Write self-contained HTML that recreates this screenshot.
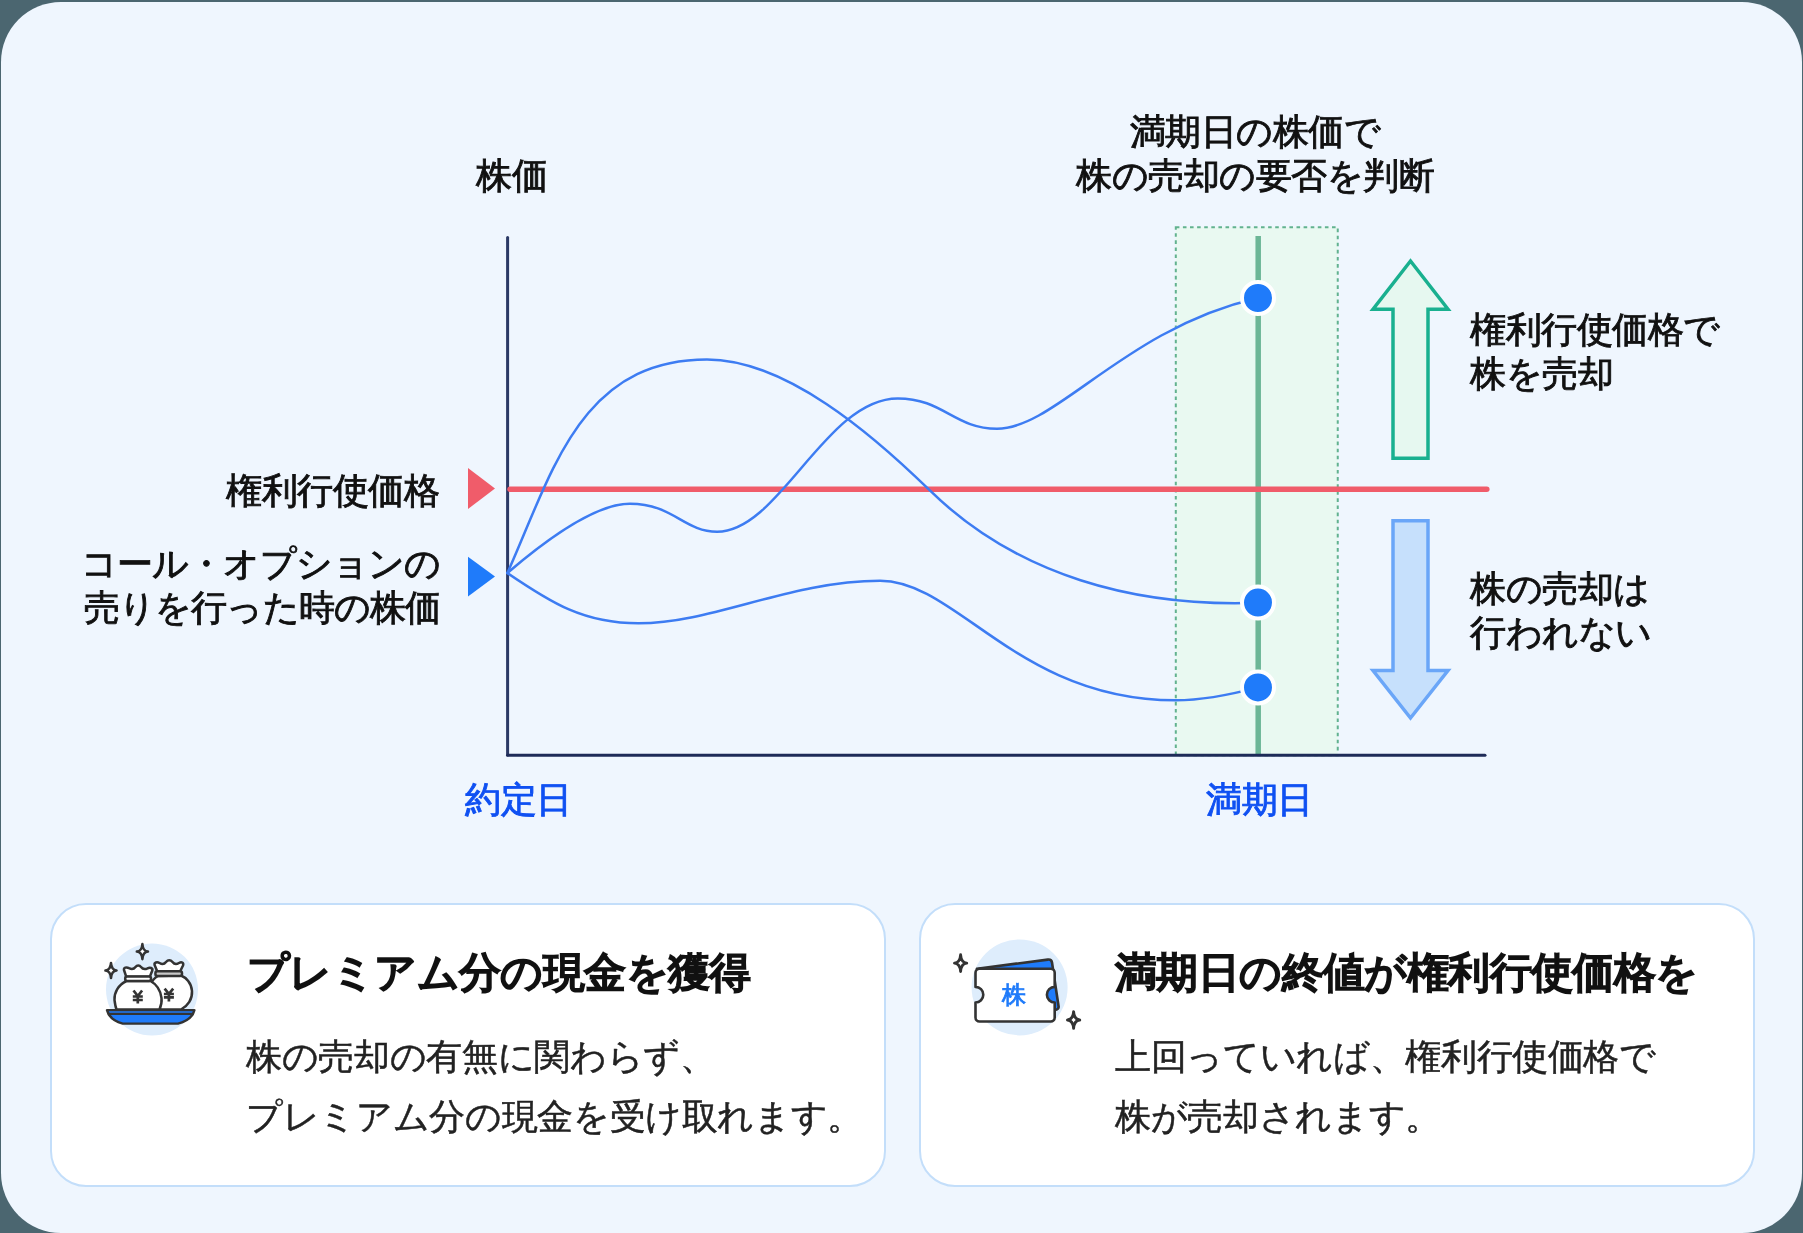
<!DOCTYPE html>
<html lang="ja">
<head>
<meta charset="utf-8">
<title>call option</title>
<style>
html,body{margin:0;padding:0;width:1803px;height:1233px;overflow:hidden;background:#4b6670;}
body{position:relative;font-family:"Liberation Sans",sans-serif;-webkit-font-smoothing:antialiased;}
.t,.ct,.cb{will-change:transform;}
.main{position:absolute;left:1px;top:2px;width:1801px;height:1231px;background:#eff6fe;border-radius:60px;}
svg{position:absolute;left:0;top:0;overflow:visible}
.t{position:absolute;white-space:nowrap;color:#111;font-size:36px;line-height:44px;font-weight:500;-webkit-text-stroke:0.9px #111;letter-spacing:-0.5px;}
.t.blue{-webkit-text-stroke:0.9px #0f50f2;}
.blue{color:#0f50f2;}
.card{position:absolute;top:903px;width:832px;height:280px;background:#fff;border:2px solid #c3defa;border-radius:36px;}
.ct{position:absolute;white-space:nowrap;color:#111;font-size:41.5px;line-height:50px;font-weight:normal;-webkit-text-stroke:2.2px #111;letter-spacing:-0.6px;}
.cb{position:absolute;white-space:nowrap;color:#222;font-size:36px;line-height:60px;font-weight:normal;-webkit-text-stroke:0.5px #222;letter-spacing:-0.35px;}
</style>
</head>
<body>
<div class="main"></div>
<svg width="1803" height="1233" viewBox="0 0 1803 1233">
  <rect x="1175.8" y="227.2" width="161.95" height="528" fill="#e9f9f1" stroke="#62b28f" stroke-width="2" stroke-dasharray="3.6 3.5"/>
  <line x1="1258.2" y1="236" x2="1258.2" y2="755" stroke="#6cb696" stroke-width="5.5"/>
  <line x1="507.6" y1="237.5" x2="507.6" y2="755" stroke="#2b3965" stroke-width="3" stroke-linecap="round"/>
  <line x1="507.6" y1="755.3" x2="1485" y2="755.3" stroke="#1e2b58" stroke-width="3" stroke-linecap="round"/>
  <line x1="510" y1="489.2" x2="1486.8" y2="489.2" stroke="#f05c6a" stroke-width="5.5" stroke-linecap="round"/>
  <polygon points="468,468 495,488.5 468,509" fill="#f05c6a"/>
  <polygon points="468,556.8 495,576.6 468,596.4" fill="#1f7bfa"/>
  <g fill="none" stroke="#3d7cf2" stroke-width="2.5" stroke-linecap="round">
    <path d="M507.4,573.0 C551.7,474.6 579.2,359.4 707.0,359.4 C785.5,359.4 872.7,434.6 929.6,490.2 C1017.1,575.8 1135.2,607.3 1257.7,602.8"/>
    <path d="M507.4,573.0 C540.0,545.0 592.3,503.8 629.9,503.8 C673.2,503.8 683.9,531.7 717.1,531.7 C779.5,531.7 825.6,398.4 897.8,398.4 C943.1,398.4 954.2,428.7 997.0,428.7 C1056.1,428.7 1125.2,328.1 1257.9,298.0"/>
    <path d="M507.4,573.0 C551.4,603.0 583.8,623.3 638.5,623.3 C712.9,623.3 790.4,580.7 880.1,580.7 C957.3,580.7 1018.3,700.3 1175.7,700.3 C1203.8,700.3 1238.5,692.6 1257.9,687.4"/>
  </g>
  <g fill="#1f7bfa" stroke="#fff" stroke-width="4">
    <circle cx="1258" cy="298" r="16"/>
    <circle cx="1258" cy="602.6" r="16"/>
    <circle cx="1258" cy="687.4" r="16"/>
  </g>
  <polygon points="1410.5,261 1448,309.3 1428,309.3 1428,458.2 1393,458.2 1393,309.3 1373,309.3" fill="#e6f8f0" stroke="#19b08f" stroke-width="3.5" stroke-linejoin="miter"/>
  <polygon points="1410.5,718 1448,670.5 1428,670.5 1428,520.8 1393,520.8 1393,670.5 1373,670.5" fill="#c6e0fc" stroke="#6aa6f8" stroke-width="3.5" stroke-linejoin="miter"/>
</svg>

<div class="t" style="left:476px;top:154px;">株価</div>
<div class="t" style="left:1076px;top:110px;width:358px;text-align:center;">満期日の株価で<br>株の売却の要否を判断</div>
<div class="t" style="left:226px;top:469px;">権利行使価格</div>
<div class="t" style="right:1363px;top:542px;text-align:right;letter-spacing:-0.9px;">コール・オプションの<br>売りを行った時の株価</div>
<div class="t" style="left:1470px;top:308px;">権利行使価格で<br>株を売却</div>
<div class="t" style="left:1470px;top:567px;">株の売却は<br>行われない</div>
<div class="t blue" style="left:465px;top:778px;">約定日</div>
<div class="t blue" style="left:1206px;top:778px;">満期日</div>

<div class="card" style="left:50px;"></div>
<div class="card" style="left:919px;"></div>
<div class="ct" style="left:247px;top:948px;">プレミアム分の現金を獲得</div>
<div class="cb" style="left:246px;top:1027px;">株の売却の有無に関わらず、<br>プレミアム分の現金を受け取れます。</div>
<div class="ct" style="left:1115px;top:948px;">満期日の終値が権利行使価格を</div>
<div class="cb" style="left:1115px;top:1027px;">上回っていれば、権利行使価格で<br>株が売却されます。</div>

<svg width="1803" height="1233" viewBox="0 0 1803 1233">
  <!-- icon 1: money bags -->
  <circle cx="152" cy="989.4" r="46" fill="#deedfc"/>
  <g stroke="#333" stroke-width="2.5" stroke-linejoin="round" stroke-linecap="round" fill="#fff">
    <path transform="translate(142.4 951.6)" d="M0,-7.6 Q0.5,-0.5 5.6,0 Q0.5,0.5 0,7.6 Q-0.5,0.5 -5.6,0 Q-0.5,-0.5 0,-7.6 Z"/>
    <path transform="translate(111 970.5)" d="M0,-7.6 Q0.5,-0.5 5.6,0 Q0.5,0.5 0,7.6 Q-0.5,0.5 -5.6,0 Q-0.5,-0.5 0,-7.6 Z"/>
    <!-- right bag -->
    <path d="M158,976 C150,980 148.5,990 149.5,998 C151,1006 156,1009.5 162,1009.5 L181,1009.5 C188,1006 192.5,999 192,991 C191.5,983 186,977.5 181,975.5 Z"/>
    <path d="M157.2,971.3 L154.6,965 C154,962.5 157,961.5 159.5,963 C162,964.5 164.5,964 166,962 C168,959.5 170.5,959.5 172.5,962 C174,964 176.5,964.5 179,963 C181.5,961.5 184,962.5 183,965.5 L180.2,971.3 Z"/>
    <rect x="155.4" y="971.3" width="26.6" height="4.7" rx="2" fill="#c8c8c8"/>
    <!-- left bag -->
    <path d="M126.5,981 C118,985 114,993 114.5,1000 C115,1004 115.5,1007 116.5,1009.5 L159.5,1009.5 C161,1006 162,1002 161.5,998 C160.5,990 156,984 150.5,981 Z"/>
    <path d="M126.2,976.7 L124,970 C123.5,967.5 126.5,966.8 129,968.2 C131.5,969.5 134,969 135.5,967 C137,965 139.5,965 141,967 C142.5,969 145,969.5 147.5,968.3 C150,967 153,968 152.3,970.5 L149.8,976.7 Z"/>
    <rect x="125.2" y="976.6" width="25.8" height="4.4" rx="2"/>
  </g>
  <g stroke="#333" stroke-width="2.7" stroke-linecap="butt" fill="none">
    <path d="M133.5,990.5 L137.8,996 L142.1,990.5 M137.8,996 L137.8,1003.5 M132.8,996.5 L142.8,996.5 M132.8,1000 L142.8,1000"/>
    <path d="M164.6,988.6 L168.9,993.8 L173.2,988.6 M168.9,993.8 L168.9,1001.5 M163.9,994 L173.9,994 M163.9,997.3 L173.9,997.3"/>
  </g>
  <path d="M107,1010.1 L194.4,1010.1 C193,1016 188,1021 178,1023.6 L122.7,1023.6 C113,1021 108.5,1016 107,1010.1 Z" fill="#1f7bfa" stroke="#333" stroke-width="2.4" stroke-linejoin="round"/>
  <line x1="109" y1="1013.9" x2="192.4" y2="1013.9" stroke="#333" stroke-width="2.4"/>

  <!-- icon 2: ticket -->
  <circle cx="1019.6" cy="987.4" r="48" fill="#deedfc"/>
  <g stroke="#333" stroke-width="2.6" stroke-linejoin="round" stroke-linecap="round">
    <path d="M977,968.7 L1047.8,959.6 C1050.2,959.3 1051.7,960.5 1052,962.5 L1058.6,1006.5 C1058.9,1008.5 1057.6,1009.5 1054.7,1010 L1000,1010 Z" fill="#1f7bfa"/>
    <path d="M979.5,968.7 L1050.7,968.7 C1053,968.7 1054.7,970.4 1054.7,972.7 L1054.7,986.9 A7.8,7.8 0 0 0 1054.7,1002.5 L1054.7,1017.5 C1054.7,1019.8 1053,1021.5 1050.7,1021.5 L979.5,1021.5 C977.2,1021.5 975.5,1019.8 975.5,1017.5 L975.5,1002.5 A7.8,7.8 0 0 0 975.5,986.9 L975.5,972.7 C975.5,970.4 977.2,968.7 979.5,968.7 Z" fill="#fff"/>
    <path fill="#fff" transform="translate(960.6 963.1) scale(1.1)" d="M0,-7.6 Q0.5,-0.5 5.6,0 Q0.5,0.5 0,7.6 Q-0.5,0.5 -5.6,0 Q-0.5,-0.5 0,-7.6 Z"/>
    <path fill="#fff" transform="translate(1073.6 1020) scale(1.1)" d="M0,-7.6 Q0.5,-0.5 5.6,0 Q0.5,0.5 0,7.6 Q-0.5,0.5 -5.6,0 Q-0.5,-0.5 0,-7.6 Z"/>
  </g>
</svg>
<div style="position:absolute;left:1000px;top:980px;width:28px;text-align:center;font-size:23.5px;line-height:30px;color:#1f7bfa;-webkit-text-stroke:0.9px #1f7bfa;white-space:nowrap;will-change:transform">株</div>

</body>
</html>
